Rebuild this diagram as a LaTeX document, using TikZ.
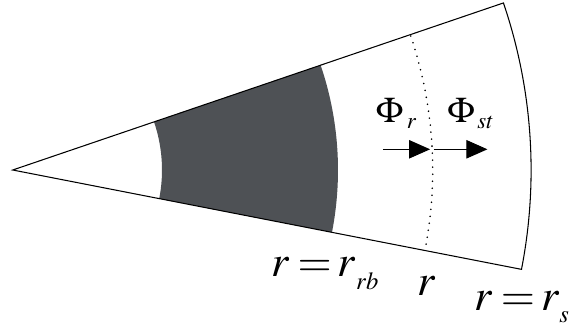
\documentclass[tikz,border=0pt]{standalone}
\usepackage{mathptmx}
\usetikzlibrary{arrows.meta}
\definecolor{coregray}{RGB}{78,81,85}
\newcommand{\lsub}[3]{\raisebox{#1}{\fontsize{#2}{#2}\selectfont$#3$}}
\newcommand{\eqr}{r\mkern3.5mu{=}\mkern2.5mu r}

\begin{document}
\begin{tikzpicture}[scale=0.02,
  edge/.style={line width=0.6pt},
  dots/.style={line width=1pt, line cap=round, dash pattern=on 0pt off 4pt},
  flux/.style={-{Triangle[length=12pt,width=10.5pt]}, line width=0.6pt},
  lbl/.style={inner sep=0pt, anchor=base west, font=\fontsize{25}{27}\selectfont},
  fluxlbl/.style={lbl, font=\fontsize{20.5}{22}\selectfont}]
\useasboundingbox (-12.7,-156) rectangle (556.3,170);

% apex of the sector
\coordinate (apex) at (0,0);

% the dark ring between r = r_rb and its outer radius
\fill[coregray] (18.8:149.3) -- (18.8:325.3)
  arc[start angle=18.8, end angle=-11.05, radius=325.3]
  -- (-11.05:149.3)
  arc[start angle=-11.05, end angle=18.8, radius=149.3] -- cycle;

% outline of the sector
\draw[edge] (apex) -- (18.8:518.4)
  arc[start angle=18.8, end angle=-11.05, radius=518.4] -- cycle;

% the dotted surface at r
\draw[dots] (18.6:420) arc[start angle=18.6, end angle=-10.4, radius=420];

% fluxes
\coordinate (inflow) at (370,20.7);
\coordinate (surf) at (417.3,20.7);
\coordinate (outflow) at (420.9,20.7);
\coordinate (outend) at (474.6,20.7);
\draw[flux] (inflow) -- (surf);
\draw[flux] (outflow) -- (outend);
\node[fluxlbl] (phir) at (362.8,47.5) {$\Phi$\kern2pt\lsub{-3.2pt}{13}{r}};
\node[fluxlbl] (phist) at (434.3,47.5) {$\Phi$\kern1.5pt\lsub{-3.2pt}{13}{st}};

% radii
\node[lbl] (rrb) at (258,-106.7) {$\eqr$\lsub{-7.2pt}{14}{rb}};
\node[lbl] (rr) at (404.3,-125) {$r$};
\node[lbl] (rst) at (461.3,-140) {$\eqr$\lsub{-7.2pt}{14}{st}};
\end{tikzpicture}
\end{document}
